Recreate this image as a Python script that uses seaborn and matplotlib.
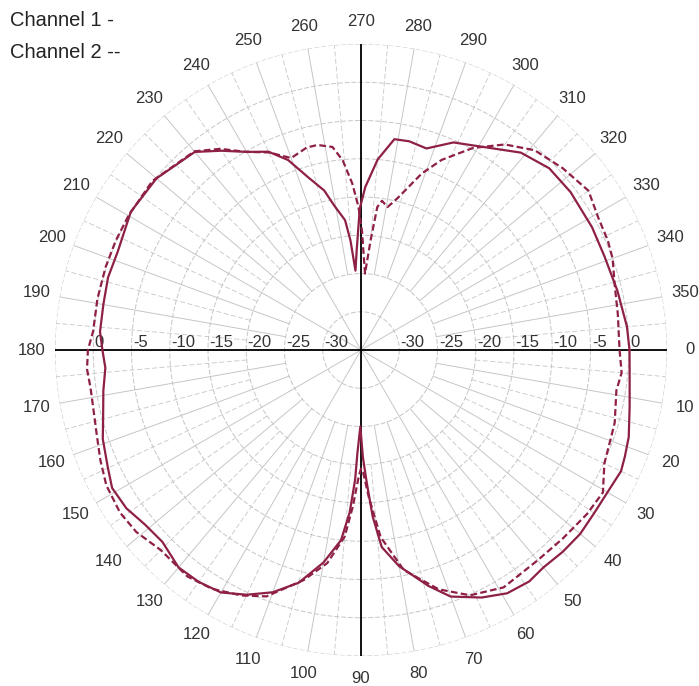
import numpy as np
import pandas as pd
import matplotlib
matplotlib.use("Agg")
import matplotlib.pyplot as plt
import seaborn as sns

# channel 1 (solid), angle in degrees / level in dB
ch1_angle = [0, 5, 12, 18, 22, 25, 30, 35, 40, 45, 50, 54, 59, 64, 70, 74, 80, 84,
             86, 87.5, 89, 90.5, 92, 92.6, 94, 96, 100, 105, 110, 115, 120, 125, 130,
             136, 141, 146, 151, 155, 161, 165, 171, 176, 180, 184, 190, 196, 202,
             211, 220, 230, 235, 240, 245, 249, 253, 257, 259.5, 263, 264.5, 266,
             267.5, 269.5, 271.5, 275, 279, 283, 288, 294, 302, 309, 316, 323, 332,
             339, 347, 355, 360]
ch1_db = [0.1, 0.25, 0.9, 1.8, 2.2, 2.5, 2.2, 2.2, 2.4, 2.3, 2.1, 2.4, 2.1, 1.0, -0.7,
          -2.9, -6.3, -9.1, -13.2, -17.6, -21.0, -25.0, -21.5, -18.0, -13.7, -10.0,
          -6.8, -3.5, -1.3, 0.3, 1.6, 2.0, 2.1, 1.1, 1.3, 2.0, 2.2, 1.5, 0.7, -0.1,
          -0.9, -1.5, -1.2, -0.8, -0.8, -0.6, -0.7, 0.1, -0.1, -1.2, -3.2, -5.1,
          -6.4, -8.4, -11.4, -13.6, -15.8, -17.9, -20.6, -24.6, -22.0, -16.5, -13.7,
          -10.0, -7.1, -7.0, -7.3, -5.3, -3.8, -1.8, -0.8, -0.7, -0.8, -0.9, -0.6,
          -0.1, 0.1]

# channel 2 (dashed)
ch2_angle = [0, 5, 9, 16, 20.5, 25, 30.5, 36, 43, 50, 59, 66, 72, 79, 84, 87, 89, 90,
             91, 93, 95, 99, 104, 111, 116, 122, 127.5, 135, 141, 146, 152, 157, 162,
             168, 172, 176, 180, 184, 191, 198, 204, 210, 219, 230, 235, 240, 245,
             250, 255, 258, 262, 264.5, 267, 269, 270.5, 273, 275, 276.5, 278, 280.5,
             283.5, 289, 293, 299, 305, 311, 318, 325, 331, 336, 340, 346, 352, 360]
ch2_db = [-1.2, -0.8, -1.2, -0.5, -0.3, 0.1, 1.7, 1.5, 1.1, 0.9, 1.2, 0.1, -2.1, -5.7,
          -10.4, -15.8, -19.0, -19.5, -18.5, -14.5, -10.5, -6.8, -4.0, -0.5, 0.7, 1.8,
          2.3, 2.0, 2.8, 3.0, 2.7, 2.0, 1.3, 0.8, 0.7, 0.9, 0.7, 0.1, 0.1, 0.1, 0.1,
          0.1, 0.1, -1.1, -2.9, -5.1, -6.5, -8.3, -7.6, -7.6, -8.2, -10.1, -13.2,
          -16.3, -19.5, -25.0, -20.6, -16.2, -15.3, -16.0, -14.6, -10.6, -8.0, -4.8,
          -2.2, -0.4, 0.5, 1.3, 0.5, 0.3, 0.0, -0.8, -1.1, -1.2]

ring_levels = [-30, -25, -20, -15, -10, -5, 0]
angle_labels = list(range(0, 360, 10))

RMIN, RMAX = -35, 5
LINE_COLOR = "#8e2046"
GRID_COLOR = "#c6c6c6"

sns.set_style("white")
plt.rcParams["font.family"] = ["Liberation Sans", "DejaVu Sans"]

fig = plt.figure(figsize=(6.99, 6.86), dpi=100)
ax = fig.add_axes([55 / 699, 30 / 686, 612 / 699, 612 / 686], projection="polar")
ax.set_theta_zero_location("E")
ax.set_theta_direction(-1)
ax.set_ylim(RMIN, RMAX)
ax.set_xticks([])
ax.set_yticks([])
ax.grid(False)
ax.spines["polar"].set_visible(False)

# rings
full = np.linspace(0, 2 * np.pi, 721)
for lev in ring_levels + [RMAX]:
    ax.plot(full, np.full_like(full, lev), color=GRID_COLOR, lw=0.7,
            ls=(0, (5, 2)), zorder=1)

# spokes
for a in range(0, 360, 5):
    th = np.deg2rad(a)
    if a % 30 == 0:
        ax.plot([th, th], [RMIN, RMAX], color=GRID_COLOR, lw=0.7, zorder=1)
    elif a % 10 == 0:
        ax.plot([th, th], [-25, RMAX], color=GRID_COLOR, lw=0.7, zorder=1)
    else:
        ax.plot([th, th], [-20, RMAX], color=GRID_COLOR, lw=0.6,
                ls=(0, (6, 3)), zorder=1)

# black main axes
for a in [0, 90, 180, 270]:
    th = np.deg2rad(a)
    ax.plot([th, th], [RMIN, RMAX], color="black", lw=1.3, zorder=2)

# data
df1 = pd.DataFrame({"theta": np.deg2rad(ch1_angle), "db": ch1_db})
df2 = pd.DataFrame({"theta": np.deg2rad(ch2_angle), "db": ch2_db})
sns.lineplot(data=df1, x="theta", y="db", ax=ax, sort=False, estimator=None,
             color=LINE_COLOR, lw=1.6, zorder=4)
sns.lineplot(data=df2, x="theta", y="db", ax=ax, sort=False, estimator=None,
             color=LINE_COLOR, lw=1.6, ls=(0, (3, 1.5)), zorder=4)
ax.set_xlabel("")
ax.set_ylabel("")
ax.set_ylim(RMIN, RMAX)

# angle labels
for a in angle_labels:
    ax.text(np.deg2rad(a), 8.0, str(a), ha="center", va="center", fontsize=12,
            color="#333333", clip_on=False)

# radial labels along horizontal axis
for lev in ring_levels:
    for side in [0, np.pi]:
        ax.annotate(str(lev), xy=(side, lev), xytext=(1, 2.5),
                    textcoords="offset points", ha="left", va="baseline",
                    fontsize=12, color="#333333", zorder=3)

fig.text(10 / 699, 1 - 20 / 686, "Channel 1 -", fontsize=14.5, color="#222222",
         ha="left", va="center")
fig.text(10 / 699, 1 - 52 / 686, "Channel 2 --", fontsize=14.5, color="#222222",
         ha="left", va="center")

fig.savefig("out.png", dpi=100)
